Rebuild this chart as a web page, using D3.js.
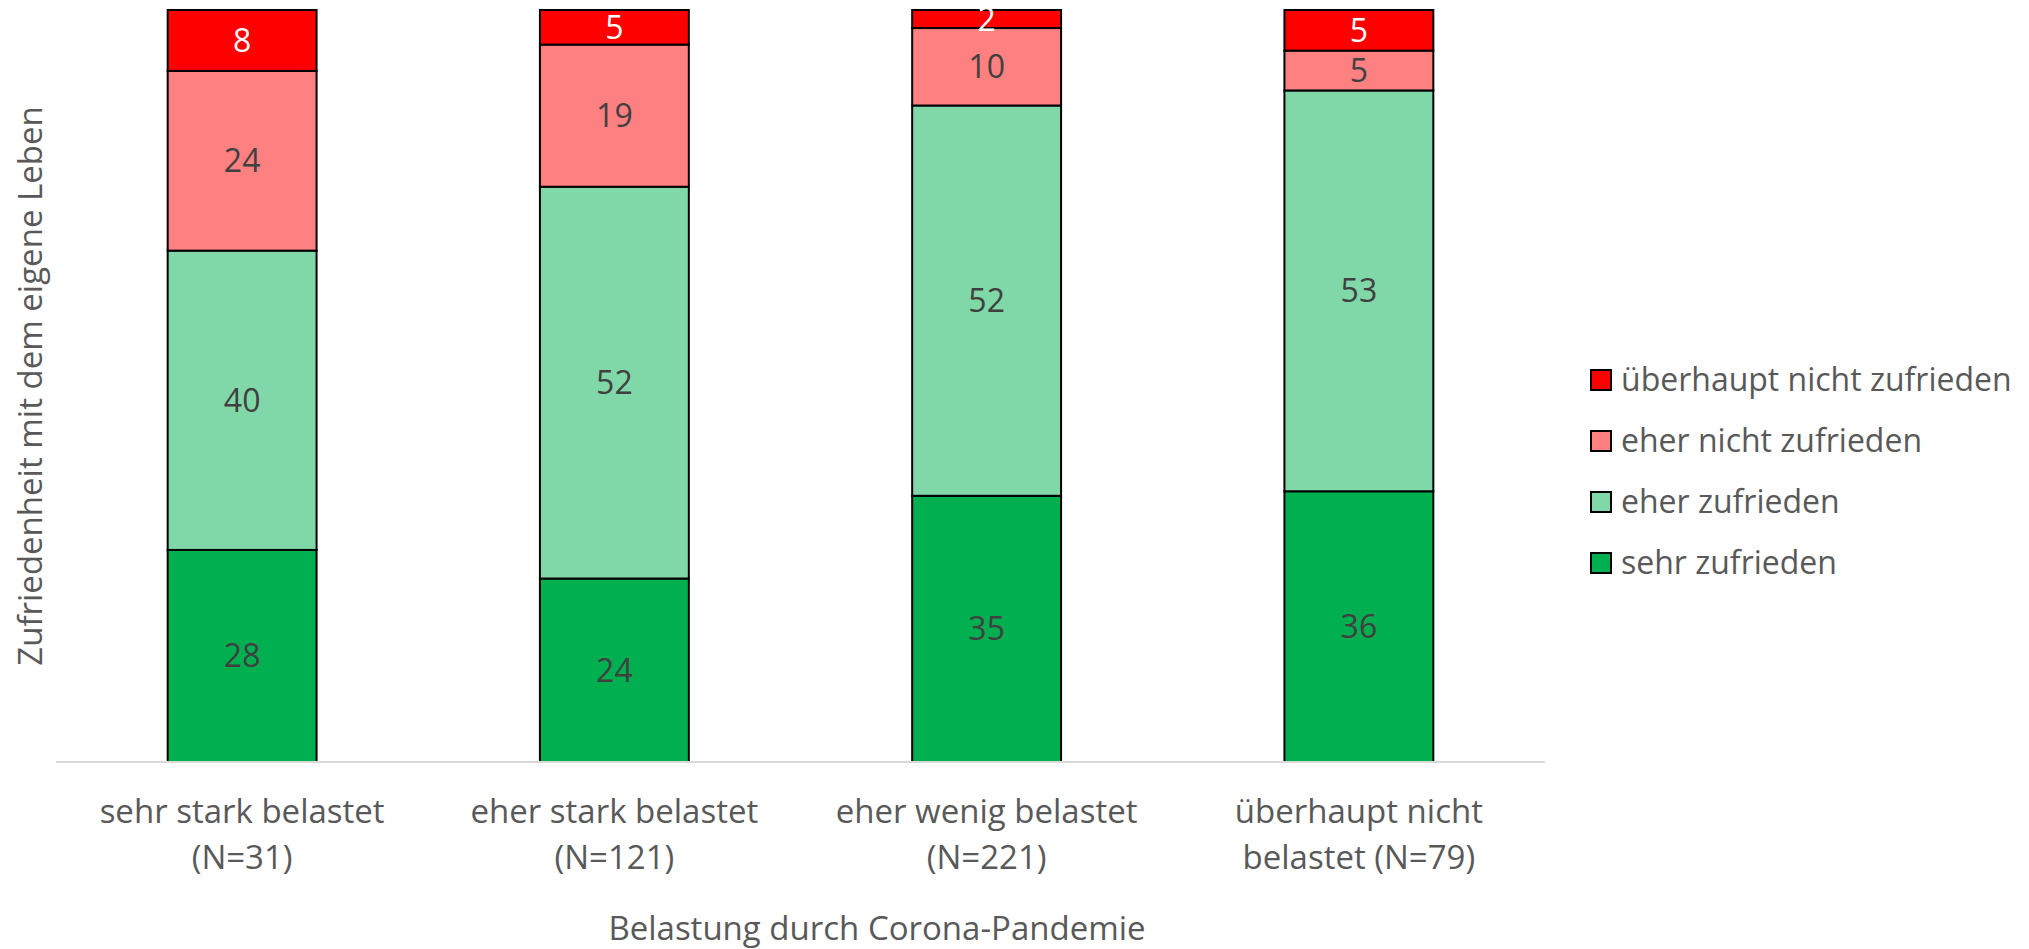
<!DOCTYPE html>
<html>
<head>
<meta charset="utf-8">
<script src="https://cdn.jsdelivr.net/npm/d3@7"></script>
<style>
  body { margin: 0; background: #fff; }
  text { font-family: "Open Sans", "Noto Sans", sans-serif; }
</style>
</head>
<body>
<svg id="chart"></svg>
<script>
const width  = 2029;
const height = 949;

// categories (two lines each, as in the original)
const categories = ["sehr stark", "eher stark", "eher wenig", "überhaupt nicht"];
const tickLines = [
  ["sehr stark belastet", "(N=31)"],
  ["eher stark belastet", "(N=121)"],
  ["eher wenig belastet", "(N=221)"],
  ["überhaupt nicht", "belastet (N=79)"]
];

// series values in %, bottom to top
const sehrZufrieden       = [28.2, 24.4, 35.4, 36.0];
const eherZufrieden       = [39.8, 52.1, 51.9, 53.3];
const eherNichtZufrieden  = [23.9, 18.9, 10.3, 5.3];
const ueberhauptNicht     = [8.1, 4.6, 2.4, 5.4];

const seriesNames  = ["sehr zufrieden", "eher zufrieden", "eher nicht zufrieden", "überhaupt nicht zufrieden"];
const seriesColors = ["#00b050", "#80d8a8", "#ff8080", "#ff0000"];
const labelColors  = ["#404040", "#404040", "#404040", "#ffffff"];

const rows = categories.map((c, i) => ({
  cat: c,
  [seriesNames[0]]: sehrZufrieden[i],
  [seriesNames[1]]: eherZufrieden[i],
  [seriesNames[2]]: eherNichtZufrieden[i],
  [seriesNames[3]]: ueberhauptNicht[i]
}));

const plot = {left: 56, right: 1545, top: 10, bottom: 762};

const x = d3.scaleBand()
  .domain(categories)
  .range([plot.left, plot.right])
  .paddingInner(0.6)
  .paddingOuter(0.3);

const y = d3.scaleLinear()
  .domain([0, 100])
  .range([plot.bottom, plot.top]);

const color = d3.scaleOrdinal().domain(seriesNames).range(seriesColors);

const stacked = d3.stack().keys(seriesNames)(rows);

const svg = d3.select("#chart")
  .attr("width", width)
  .attr("height", height);

// bars
const layer = svg.append("g")
  .selectAll("g")
  .data(stacked)
  .join("g")
    .attr("fill", d => color(d.key));

layer.selectAll("rect")
  .data(d => d)
  .join("rect")
    .attr("x", d => x(d.data.cat))
    .attr("y", d => y(d[1]))
    .attr("width", x.bandwidth())
    .attr("height", d => y(d[0]) - y(d[1]))
    .attr("stroke", "#000")
    .attr("stroke-width", 2);

// category axis (line only, labels drawn below)
const xAxis = svg.append("g")
  .attr("transform", `translate(0,${plot.bottom})`)
  .call(d3.axisBottom(x).tickSize(0).tickFormat(""));
xAxis.select(".domain")
  .attr("stroke", "#d9d9d9")
  .attr("stroke-width", 2)
  .attr("d", `M${plot.left},0H${plot.right}`);

// data labels
stacked.forEach((s, si) => {
  svg.append("g")
    .selectAll("text")
    .data(s)
    .join("text")
      .attr("x", d => x(d.data.cat) + x.bandwidth() / 2)
      .attr("y", d => (y(d[0]) + y(d[1])) / 2)
      .attr("dy", "0.36em")
      .attr("text-anchor", "middle")
      .attr("font-size", 32)
      .attr("fill", labelColors[si])
      .text(d => Math.round(d[1] - d[0]));
});

// tick labels
const ticks = svg.append("g")
  .selectAll("text")
  .data(categories)
  .join("text")
    .attr("x", d => x(d) + x.bandwidth() / 2)
    .attr("y", 823)
    .attr("text-anchor", "middle")
    .attr("font-size", 33)
    .attr("fill", "#595959");

ticks.selectAll("tspan")
  .data((d, i) => tickLines[i])
  .join("tspan")
    .attr("x", function() { return this.parentNode.getAttribute("x"); })
    .attr("dy", (d, i) => i === 0 ? 0 : 46)
    .text(d => d);

// axis titles
svg.append("text")
  .attr("x", 877)
  .attr("y", 940)
  .attr("text-anchor", "middle")
  .attr("font-size", 33)
  .attr("fill", "#595959")
  .text("Belastung durch Corona-Pandemie");

svg.append("text")
  .attr("transform", "translate(42,386) rotate(-90)")
  .attr("text-anchor", "middle")
  .attr("font-size", 33)
  .attr("fill", "#595959")
  .text("Zufriedenheit mit dem eigene Leben");

// legend (top entry = top of stack)
const legend = svg.append("g")
  .selectAll("g")
  .data(seriesNames.slice().reverse())
  .join("g")
    .attr("transform", (d, i) => `translate(1591,${380 + i * 61})`);

legend.append("rect")
  .attr("x", 0)
  .attr("y", -10)
  .attr("width", 20)
  .attr("height", 20)
  .attr("fill", d => color(d))
  .attr("stroke", "#000")
  .attr("stroke-width", 2);

legend.append("text")
  .attr("x", 30)
  .attr("y", 0)
  .attr("dy", "0.35em")
  .attr("font-size", 32)
  .attr("fill", "#595959")
  .text(d => d);
</script>
</body>
</html>
